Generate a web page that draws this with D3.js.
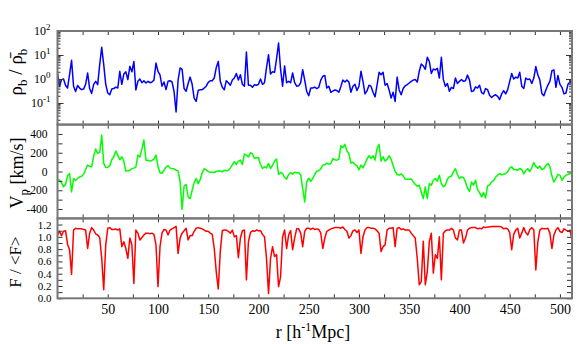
<!DOCTYPE html>
<html>
<head>
<meta charset="utf-8">
<script src="https://cdn.jsdelivr.net/npm/d3@7"></script>
<style>
body { margin: 0; background: #fff; }
text { font-family: "Liberation Serif", "Times New Roman", serif; fill: #000; }
</style>
</head>
<body>
<div id="chart"></div>
<script>
// r grid [h^-1 Mpc]
var r = [
  0,2,4,6,8,10,12,14,16,18,20,22,24,26,28,30,32,34,36,38,
  40,42,44,46,48,50,52,54,56,58,60,62,64,66,68,70,72,74,76,78,
  80,82,84,86,88,90,92,94,96,98,100,102,104,106,108,110,112,114,116,118,
  120,122,124,126,128,130,132,134,136,138,140,142,144,146,148,150,152,154,156,158,
  160,162,164,166,168,170,172,174,176,178,180,182,184,186,188,190,192,194,196,198,
  200,202,204,206,208,210,212,214,216,218,220,222,224,226,228,230,232,234,236,238,
  240,242,244,246,248,250,252,254,256,258,260,262,264,266,268,270,272,274,276,278,
  280,282,284,286,288,290,292,294,296,298,300,302,304,306,308,310,312,314,316,318,
  320,322,324,326,328,330,332,334,336,338,340,342,344,346,348,350,352,354,356,358,
  360,362,364,366,368,370,372,374,376,378,380,382,384,386,388,390,392,394,396,398,
  400,402,404,406,408,410,412,414,416,418,420,422,424,426,428,430,432,434,436,438,
  440,442,444,446,448,450,452,454,456,458,460,462,464,466,468,470,472,474,476,478,
  480,482,484,486,488,490,492,494,496,498,500,502,504,506,508,510,512
];

// rho_b / mean rho_b
var density = [
  1.78,0.49,0.94,1.0,0.55,0.42,1.52,6.0,0.5,0.3,
  0.54,0.42,0.36,0.38,0.6,1.78,0.4,0.25,0.6,0.8,
  0.58,4.0,20.8,4.0,0.6,0.26,0.22,0.38,0.4,0.46,
  0.42,2.1,0.6,1.6,2.0,0.94,3.4,2.0,5.4,0.35,
  0.8,1.0,0.7,0.85,0.68,0.8,0.7,0.75,0.9,4.6,
  2.1,1.5,0.5,0.75,0.36,0.8,0.85,0.75,0.3,0.042,
  0.9,2.9,2.5,0.4,0.31,0.65,1.2,0.6,0.16,0.117,
  0.33,0.36,0.36,0.42,0.5,0.72,0.85,0.85,1.1,3.0,
  5.4,0.8,0.45,0.36,0.85,0.7,0.55,0.9,1.1,1.7,
  0.9,1.5,0.6,0.5,13.3,0.55,0.55,0.45,0.58,0.55,
  0.6,1.0,0.6,0.7,3.0,10.3,1.6,2.0,1.9,7.0,
  31.6,2.5,0.5,3.5,0.7,0.8,0.7,1.78,0.7,0.5,
  0.52,0.7,2.45,0.9,0.3,0.2,0.42,0.42,0.46,0.4,
  0.45,0.9,1.3,1.4,0.42,0.5,0.28,0.31,0.35,0.33,
  0.28,0.49,0.9,0.75,0.9,0.75,0.28,0.5,0.6,0.33,
  0.5,2.1,0.8,0.24,0.32,0.55,0.49,0.28,0.18,0.55,
  1.9,1.5,1.9,0.55,0.65,0.35,0.16,0.28,0.117,1.2,
  0.35,0.22,0.4,0.52,0.58,0.68,0.8,0.9,0.95,0.75,
  2.1,4.2,3.5,2.5,8.0,5.4,1.7,2.6,2.4,2.8,
  1.1,8.0,0.94,0.5,0.65,0.31,0.45,0.4,1.1,0.65,
  0.8,0.95,0.8,0.85,1.45,0.9,0.3,0.32,0.47,0.42,
  0.55,0.27,0.24,0.4,0.36,0.21,0.17,0.2,0.22,0.19,
  0.14,0.24,0.33,0.24,0.36,0.8,1.7,1.0,1.2,1.1,
  1.9,0.5,0.4,1.1,0.95,1.0,0.65,1.1,3.3,1.5,
  0.9,0.25,0.2,0.35,0.56,0.8,2.2,2.4,0.45,1.4,
  0.6,0.45,0.24,0.26,0.6,0.75,0.8
];

// peculiar velocity [km/s]
var velocity = [
  -82,-93,-118,-164,-139,-46,-21,-218,-75,-96,
  -75,-57,-50,-29,21,68,54,50,164,239,
  193,204,389,86,43,46,61,125,157,218,
  175,125,157,111,4,7,11,32,36,50,
  175,154,239,336,121,121,111,118,132,175,
  54,-14,-18,11,50,61,36,32,29,14,
  7,-104,-404,-154,-139,-271,-289,-200,-118,-75,
  -129,-86,-14,29,18,0,-7,-7,-11,0,
  7,4,-4,14,7,11,39,71,104,75,
  111,121,75,186,175,154,200,189,139,146,
  150,75,32,50,39,86,32,64,111,132,
  -32,-11,-21,-64,-82,-32,-11,-29,-7,-14,
  -14,-36,-182,-325,-111,-71,-104,-75,-32,4,
  7,29,68,71,89,79,86,136,125,121,
  132,275,254,289,218,189,89,100,75,61,
  18,68,39,82,132,168,139,168,121,246,
  289,111,157,111,129,168,132,61,4,-32,
  -39,-25,-46,-79,-82,-82,-79,-111,-136,-157,
  -146,-218,-289,-164,-289,-129,-146,-93,-75,-104,
  -39,-129,-164,-146,-82,-57,-50,-4,29,-32,
  -75,-57,-64,-111,-179,-211,-111,-146,-93,-193,
  -225,-271,-225,-282,-154,-143,-111,-96,-61,-39,
  -21,-36,-29,-21,-4,36,50,21,21,14,
  32,21,-25,7,29,0,39,96,54,36,
  57,21,29,64,86,54,-46,-111,-75,-32,
  -39,-93,-61,-39,-32,-21,-21
];

// transmitted flux F / <F>
var flux = [
  1.03,1.09,1.02,1.09,1.10,0.88,0.79,0.39,1.11,1.14,
  1.13,1.13,1.13,1.12,1.11,0.81,1.06,1.15,1.11,1.05,
  1.03,0.99,0.65,0.14,0.87,1.14,1.15,1.12,1.12,1.13,
  1.11,1.13,0.84,0.92,0.81,0.65,0.98,0.87,0.24,1.11,
  1.06,0.95,0.99,1.03,1.06,1.06,1.05,1.06,1.04,0.87,
  0.19,0.84,1.06,1.12,1.11,1.03,1.11,1.13,1.15,1.17,
  0.73,0.98,1.06,1.10,1.14,0.95,1.02,1.02,1.09,1.14,
  1.15,1.14,1.13,1.11,1.09,1.09,1.06,1.04,0.81,0.43,
  0.15,0.76,1.10,1.11,1.11,1.09,1.06,1.11,1.00,1.02,
  0.66,0.98,1.10,1.11,0.30,0.92,1.07,1.10,1.09,1.11,
  1.10,1.10,1.04,1.00,0.65,0.08,0.65,0.84,0.68,0.71,
  0.19,0.35,1.00,1.11,0.81,1.03,1.10,0.79,0.98,1.13,
  1.13,1.06,0.84,1.09,1.14,1.14,1.12,1.14,1.12,1.13,
  1.12,1.06,0.81,0.98,1.09,1.11,1.13,1.14,1.15,1.15,
  1.15,1.14,1.16,1.12,1.09,0.98,1.02,1.10,1.11,1.07,
  1.11,0.73,1.00,1.11,1.15,1.15,1.14,1.14,1.13,1.10,
  1.06,0.76,0.84,0.87,1.11,1.14,1.14,1.15,0.84,1.14,
  1.15,1.12,1.13,1.11,1.11,1.11,1.06,1.02,0.98,0.65,
  0.22,0.27,0.93,0.22,0.43,0.92,1.06,0.41,0.71,0.65,
  1.00,0.30,1.06,1.10,1.11,1.11,1.14,1.11,0.98,0.95,
  1.11,1.11,0.90,0.98,1.11,1.14,1.15,1.15,1.15,1.13,
  1.14,1.13,1.16,1.15,1.16,1.16,1.17,1.17,1.17,1.17,
  1.17,1.16,1.13,1.14,1.13,1.07,0.79,1.04,1.11,1.14,
  0.98,1.06,1.15,1.07,1.03,1.12,1.15,1.11,0.46,0.92,
  1.11,1.14,1.13,1.13,1.14,1.06,0.81,1.03,1.11,1.15,
  1.09,1.07,1.13,1.11,1.09,1.11,0.95
];

// tick values and labels
var xTicks = [25,50,75,100,125,150,175,200,225,250,275,300,325,350,375,400,425,450,475,500];
var xLabels = [50,100,150,200,250,300,350,400,450,500];
var rhoDecades = [0.1, 1, 10, 100];
var rhoExponents = ["-1", "0", "1", "2"];
var velTicks = [-400,-300,-200,-100,0,100,200,300,400];
var velLabels = [-400,-200,0,200,400];
var fluxTicks = [0,0.1,0.2,0.3,0.4,0.5,0.6,0.7,0.8,0.9,1.0,1.1,1.2];
var fluxLabels = ["0.0","0.2","0.4","0.6","0.8","1.0","1.2"];

var svgWidth = 581, svgHeight = 344;
var left = 57.5, right = 572;
var p1 = {top: 31, bottom: 124.6};
var p2 = {top: 124.6, bottom: 218.4};
var p3 = {top: 218.4, bottom: 298.3};

var svg = d3.select("#chart").append("svg")
  .attr("width", svgWidth)
  .attr("height", svgHeight);

var x = d3.scaleLinear().domain([0, 512]).range([left, right]);
var y1 = d3.scaleLog().domain([Math.pow(10, -1.9), 100]).range([p1.bottom, p1.top]);
var y2 = d3.scaleLinear().domain([-500, 500]).range([p2.bottom, p2.top]);
var y3 = d3.scaleLinear().domain([0, 1.3]).range([p3.bottom, p3.top]);

var tickColor = "#333";

function styleAxis(g) {
  g.select(".domain").remove();
  g.selectAll(".tick line").attr("stroke", tickColor).attr("stroke-width", 1);
  g.attr("font-family", "Liberation Serif, Times New Roman, serif");
}

// x ticks on top and bottom of every panel, pointing inwards
function xTicksFor(p) {
  svg.append("g").attr("transform", `translate(0,${p.bottom})`)
    .call(d3.axisBottom(x).tickValues(xTicks).tickSize(-4).tickSizeOuter(0).tickFormat(""))
    .call(styleAxis);
  svg.append("g").attr("transform", `translate(0,${p.top})`)
    .call(d3.axisTop(x).tickValues(xTicks).tickSize(-4).tickSizeOuter(0).tickFormat(""))
    .call(styleAxis);
}
xTicksFor(p1); xTicksFor(p2); xTicksFor(p3);

// data lines
function clip(id, p) {
  svg.append("clipPath").attr("id", id).append("rect")
    .attr("x", left).attr("y", p.top).attr("width", right - left).attr("height", p.bottom - p.top);
}
clip("c1", p1); clip("c2", p2); clip("c3", p3);

function drawLine(vals, y, color, clipId) {
  var line = d3.line()
    .x(function(d, i) { return x(r[i]); })
    .y(function(d) { return y(d); });
  svg.append("path")
    .datum(vals)
    .attr("clip-path", `url(#${clipId})`)
    .attr("fill", "none")
    .attr("stroke", color)
    .attr("stroke-width", 1.5)
    .attr("stroke-linejoin", "round")
    .attr("d", line);
}
drawLine(density, y1, "#0000ff", "c1");
drawLine(velocity, y2, "#00ff00", "c2");
drawLine(flux, y3, "#ff0000", "c3");

// panel 1: log axis
var rhoMinor = [];
rhoDecades.forEach(function(d) {
  for (var k = 2; k <= 9; k++) {
    var v = d * k / 10;
    if (v > y1.domain()[0]) rhoMinor.push(v);
  }
});
[["left", d3.axisLeft], ["right", d3.axisRight]].forEach(function(s) {
  var xpos = s[0] == "left" ? left : right;
  svg.append("g").attr("transform", `translate(${xpos},0)`)
    .call(s[1](y1).tickValues(rhoDecades).tickSize(-6).tickSizeOuter(0).tickFormat(""))
    .call(styleAxis);
  svg.append("g").attr("transform", `translate(${xpos},0)`)
    .call(s[1](y1).tickValues(rhoMinor).tickSize(-3).tickSizeOuter(0).tickFormat(""))
    .call(styleAxis);
});
rhoDecades.forEach(function(d, i) {
  var t = svg.append("text")
    .attr("x", left - 7)
    .attr("y", y1(d) + 4)
    .attr("text-anchor", "end")
    .style("font-size", "12px");
  t.append("tspan").text("10");
  t.append("tspan").attr("dy", -5).style("font-size", "9px").text(rhoExponents[i]);
});

// panel 2
[["left", d3.axisLeft], ["right", d3.axisRight]].forEach(function(s) {
  var xpos = s[0] == "left" ? left : right;
  var ax = s[1](y2).tickValues(velTicks).tickSize(-5).tickSizeOuter(0).tickPadding(10)
    .tickFormat(function(d) { return s[0] == "left" && velLabels.indexOf(d) >= 0 ? String(d) : ""; });
  svg.append("g").attr("transform", `translate(${xpos},0)`)
    .call(ax).call(styleAxis)
    .selectAll("text").style("font-size", "11.5px").attr("fill", "#000");
});

// panel 3
[["left", d3.axisLeft], ["right", d3.axisRight]].forEach(function(s) {
  var xpos = s[0] == "left" ? left : right;
  var ax = s[1](y3).tickValues(fluxTicks).tickSize(-5).tickSizeOuter(0).tickPadding(6)
    .tickFormat(function(d, i) { return s[0] == "left" && i % 2 == 0 ? fluxLabels[i / 2] : ""; });
  svg.append("g").attr("transform", `translate(${xpos},0)`)
    .call(ax).call(styleAxis)
    .selectAll("text").style("font-size", "11px").attr("fill", "#000");
});

// x labels under bottom panel
svg.append("g").attr("transform", `translate(0,${p3.bottom})`)
  .call(d3.axisBottom(x).tickValues(xLabels).tickSize(0).tickPadding(6).tickFormat(function(d) { return String(d); }))
  .call(styleAxis)
  .selectAll("text").style("font-size", "14px").attr("fill", "#000");

// frames
[p1, p2, p3].forEach(function(p) {
  svg.append("rect")
    .attr("x", left).attr("y", p.top)
    .attr("width", right - left).attr("height", p.bottom - p.top)
    .attr("fill", "none").attr("stroke", "#777").attr("stroke-width", 2);
});

// axis titles
var xt = svg.append("text")
  .attr("x", 313).attr("y", 338)
  .attr("text-anchor", "middle")
  .style("font-size", "18px");
xt.append("tspan").text("r [h");
xt.append("tspan").attr("dy", -7).style("font-size", "12px").text("-1");
xt.append("tspan").attr("dy", 7).text("Mpc]");

var t1 = svg.append("text")
  .attr("transform", "translate(22,72) rotate(-90)")
  .attr("text-anchor", "middle")
  .style("font-size", "19px");
t1.append("tspan").text("\u03C1");
t1.append("tspan").attr("dy", 5).style("font-size", "13px").text("b");
t1.append("tspan").attr("dy", -5).text(" / \u03C1\u0304");
t1.append("tspan").attr("dy", 5).style("font-size", "13px").text("b");

var t2 = svg.append("text")
  .attr("transform", "translate(23,173) rotate(-90)")
  .attr("text-anchor", "middle")
  .style("font-size", "18px");
t2.append("tspan").text("V");
t2.append("tspan").attr("dy", 5).style("font-size", "13px").text("p");
t2.append("tspan").attr("dy", -5).text(" [km/s]");

svg.append("text")
  .attr("transform", "translate(21,262) rotate(-90)")
  .attr("text-anchor", "middle")
  .style("font-size", "17px")
  .text("F / <F>");
</script>
</body>
</html>
